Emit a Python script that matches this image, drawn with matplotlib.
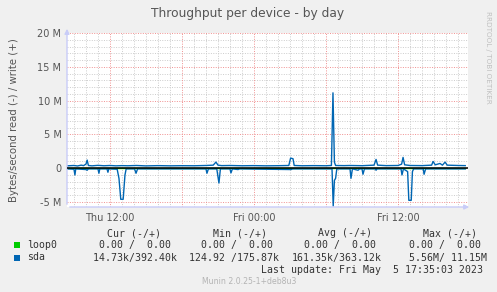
import matplotlib.pyplot as plt
import numpy as np

# data (hours since Thu 00:00, values in MB/s)
write_hours = [8.45, 9.0, 9.3, 9.6, 9.8, 10.0, 10.1, 10.2, 10.5, 11.0, 11.5, 12.0, 12.5,
               13.0, 13.5, 14.2, 15.0, 16.0, 17.0, 18.0, 19.0, 20.0, 20.6, 20.83, 21.0,
               21.3, 22.0, 23.0, 24.0, 25.0, 26.0, 26.9, 27.05, 27.25, 27.35, 28.0, 29.0,
               30.0, 30.45, 30.58, 30.7, 30.8, 31.5, 32.0, 33.0, 34.0, 34.17, 34.3, 35.0,
               36.0, 36.3, 36.42, 36.55, 37.0, 38.0, 38.8, 38.92, 39.1, 39.5, 39.7, 39.92,
               40.1, 41.0, 41.6]
write_vals = [0.35, 0.40, 0.33, 0.45, 0.38, 0.60, 1.20, 0.40, 0.35, 0.42, 0.36, 0.40, 0.35,
              0.38, 0.36, 0.40, 0.34, 0.38, 0.35, 0.37, 0.36, 0.40, 0.45, 0.90, 0.45,
              0.38, 0.40, 0.36, 0.38, 0.35, 0.37, 0.40, 1.50, 1.40, 0.40, 0.36, 0.38,
              0.36, 0.40, 11.15, 0.90, 0.40, 0.38, 0.40, 0.37, 0.45, 1.30, 0.45, 0.38,
              0.40, 0.60, 1.60, 0.50, 0.40, 0.38, 0.45, 1.00, 0.50, 0.70, 0.45, 0.90,
              0.45, 0.40, 0.38]

read_hours = [8.45, 9.0, 9.08, 9.15, 10.0, 10.1, 10.2, 11.0, 11.08, 11.15, 11.75, 11.83,
              11.9, 12.6, 12.75, 12.9, 13.1, 13.25, 13.35, 14.05, 14.17, 14.3, 20.0, 20.08,
              20.2, 20.9, 21.08, 21.2, 22.0, 22.08, 22.2, 22.67, 22.8, 27.1, 27.2, 30.5,
              30.6, 30.7, 30.8, 30.9, 32.0, 32.08, 32.2, 32.67, 32.8, 33.0, 33.08, 33.2,
              34.1, 34.17, 34.25, 36.25, 36.33, 36.45, 36.8, 36.9, 37.1, 37.2, 37.3,
              38.1, 38.17, 38.3, 41.6]
read_vals = [0.10, 0.15, 1.00, 0.10, 0.20, 0.30, 0.10, 0.10, 0.75, 0.10, 0.10, 0.60,
             0.10, 0.15, 1.50, 4.60, 4.60, 1.00, 0.10, 0.10, 0.75, 0.10, 0.10, 0.75,
             0.10, 0.10, 2.20, 0.10, 0.10, 0.70, 0.10, 0.20, 0.10, 0.20, 0.10, 0.10,
             5.60, 1.80, 1.50, 0.10, 0.10, 1.50, 0.10, 0.30, 0.10, 0.10, 0.90, 0.10,
             0.10, 0.30, 0.10, 0.10, 1.00, 0.10, 0.50, 4.75, 4.75, 0.50, 0.10,
             0.10, 0.90, 0.10, 0.10]

xtick_hours = [12, 24, 36]
xtick_labels = ['Thu 12:00', 'Fri 00:00', 'Fri 12:00']
ytick_vals = [-5, 0, 5, 10, 15, 20]
ytick_labels = ['-5 M', '0', '5 M', '10 M', '15 M', '20 M']

series = ['loop0', 'sda']
series_colors = ['#00cc00', '#0066b3']
cur = ['  0.00 /  0.00 ', ' 14.73k/392.40k']
mins = ['  0.00 /  0.00 ', '124.92 /175.87k']
avgs = ['  0.00 /  0.00 ', '161.35k/363.12k']
maxs = ['  0.00 /  0.00 ', '  5.56M/ 11.15M']

W, H = 497, 292
fig = plt.figure(figsize=(W / 100, H / 100), dpi=100, facecolor='#f0f0f0')
ax = fig.add_axes([67 / W, 1 - 207 / H, 401 / W, 174 / H], facecolor='white')

def px(x, y):
    return x / W, 1 - y / H

# grid
for h in range(9, 42):
    if h % 6:
        ax.axvline(h, color='#cccccc', lw=0.7, ls=(0, (1, 1.5)), zorder=1)
for v in np.arange(-5, 21):
    if v % 5:
        ax.axhline(v, color='#cccccc', lw=0.7, ls=(0, (1, 1.5)), zorder=1)
for h in [12, 18, 24, 30, 36]:
    ax.axvline(h, color='#f09090', lw=0.7, ls=(0, (1, 1.5)), zorder=1)
for v in ytick_vals:
    ax.axhline(v, color='#f09090', lw=0.7, ls=(0, (1, 1.5)), zorder=1)

# data
ax.plot([write_hours[0], write_hours[-1]], [0, 0], color=series_colors[0], lw=1, zorder=2)
ax.plot(write_hours, write_vals, color=series_colors[1], lw=1.0, zorder=3)
ax.plot(read_hours, -np.array(read_vals), color=series_colors[1], lw=1.0, zorder=3)
ax.axhline(0, color='black', lw=1.1, zorder=4)

ax.set_xlim(8.42, 41.83)
ax.set_ylim(-5.74, 20)
for s in ax.spines.values():
    s.set_visible(False)
ax.set_xticks(xtick_hours)
ax.set_xticklabels(xtick_labels)
ax.set_yticks(ytick_vals)
ax.set_yticklabels(ytick_labels)
ax.tick_params(length=0, labelsize=7, colors='#555555', pad=4)

# axes with arrows
axis_col = '#c8ccf8'
ax.annotate('', xy=(0, 1.04), xytext=(0, 0), xycoords='axes fraction',
            arrowprops=dict(arrowstyle='-|>', color=axis_col, lw=1, mutation_scale=7))
ax.annotate('', xy=(1.01, 0), xytext=(0, 0), xycoords='axes fraction',
            arrowprops=dict(arrowstyle='-|>', color=axis_col, lw=1, mutation_scale=7))

fig.text(*px(248, 13), 'Throughput per device - by day', ha='center', va='center',
         fontsize=8.8, color='#555555')
fig.text(*px(14, 120), 'Bytes/second read (-) / write (+)', rotation=90, ha='center',
         va='center', fontsize=7.3, color='#555555')
fig.text(*px(488, 57), 'RRDTOOL / TOBI OETIKER', rotation=270, ha='center', va='center',
         fontsize=5.2, color='#c0c0c0')

mono = dict(family='DejaVu Sans Mono', fontsize=7.1, color='#333333', va='center')
headers = ['Cur (-/+)', 'Min (-/+)', 'Avg (-/+)', 'Max (-/+)']
head_x = [107, 213, 318, 423]
for hx, t in zip(head_x, headers):
    fig.text(*px(hx, 233), t, ha='left', **mono)

col_x = [87, 189, 292, 397]
for i, name in enumerate(series):
    y = 245 + i * 12.5
    fig.patches.append(plt.Rectangle(px(14, y + 3), 6 / W, 6 / H, transform=fig.transFigure,
                                     facecolor=series_colors[i], edgecolor='none'))
    fig.text(*px(27, y), name, ha='left', **mono)
    for cx, vals in zip(col_x, [cur, mins, avgs, maxs]):
        fig.text(*px(cx, y), vals[i], ha='left', **mono)

fig.text(*px(483, 270), 'Last update: Fri May  5 17:35:03 2023', ha='right', **mono)
fig.text(*px(249, 281), 'Munin 2.0.25-1+deb8u3', ha='center', va='center',
         fontsize=5.6, color='#b4b4b4')

fig.savefig('out.png', dpi=100, facecolor=fig.get_facecolor())
